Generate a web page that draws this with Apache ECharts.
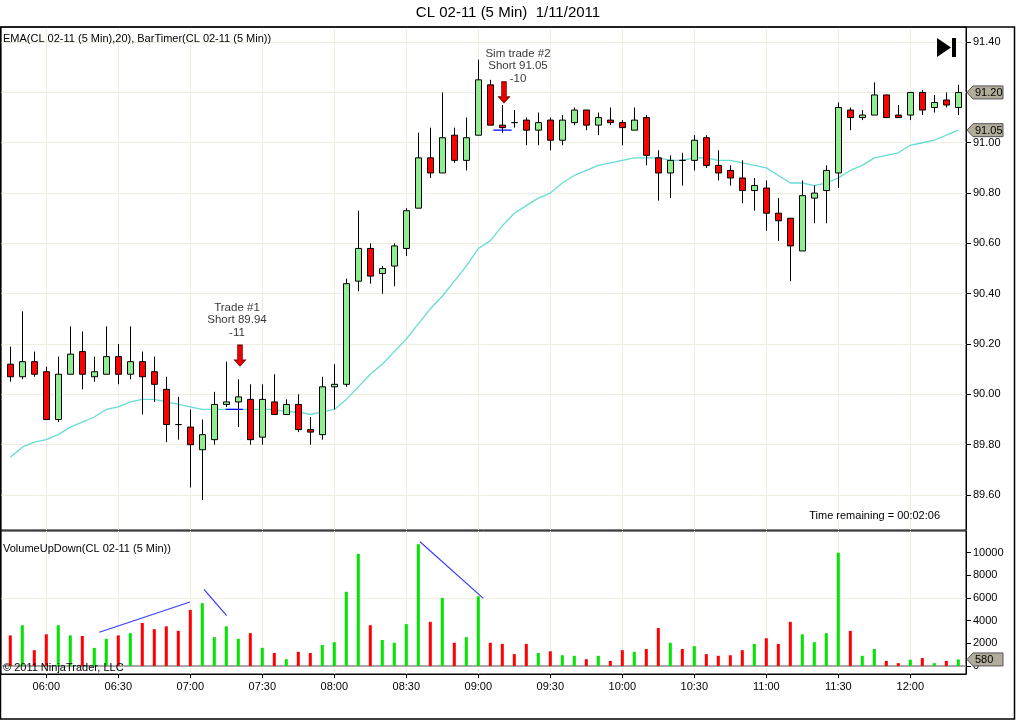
<!DOCTYPE html>
<html><head><meta charset="utf-8">
<script src="https://cdn.jsdelivr.net/npm/echarts@6/dist/echarts.min.js"></script>
<style>html,body{margin:0;padding:0;background:#fff}#c{width:1016px;height:720px}</style>
</head><body><div id="c"></div>
<script>
const times = ['05:45','05:50','05:55',
 '06:00','06:05','06:10','06:15','06:20','06:25','06:30','06:35','06:40','06:45','06:50','06:55',
 '07:00','07:05','07:10','07:15','07:20','07:25','07:30','07:35','07:40','07:45','07:50','07:55',
 '08:00','08:05','08:10','08:15','08:20','08:25','08:30','08:35','08:40','08:45','08:50','08:55',
 '09:00','09:05','09:10','09:15','09:20','09:25','09:30','09:35','09:40','09:45','09:50','09:55',
 '10:00','10:05','10:10','10:15','10:20','10:25','10:30','10:35','10:40','10:45','10:50','10:55',
 '11:00','11:05','11:10','11:15','11:20','11:25','11:30','11:35','11:40','11:45','11:50','11:55',
 '12:00','12:05','12:10','12:15','12:20'];
const open = [90.12,90.07,90.13,90.09,89.90,90.08,90.17,90.07,90.08,90.15,90.08,90.13,90.09,90.02,89.88,89.87,89.78,89.82,89.96,89.97,
 89.98,89.83,89.97,89.92,89.96,89.86,89.84,90.03,90.04,90.45,90.58,90.48,90.51,90.58,90.74,90.94,90.88,91.03,90.93,91.03,
 91.23,91.07,91.08,91.09,91.05,91.09,91.01,91.08,91.13,91.07,91.09,91.08,91.05,91.10,90.94,90.88,90.93,90.93,91.02,90.91,
 90.89,90.86,90.81,90.82,90.72,90.70,90.57,90.78,90.81,90.88,91.13,91.10,91.11,91.19,91.11,91.11,91.20,91.14,91.17,91.14];
const high = [90.19,90.33,90.17,90.11,90.15,90.27,90.25,90.15,90.27,90.20,90.27,90.17,90.15,90.07,89.99,89.94,89.90,90.01,90.13,90.06,
 90.04,90.04,90.08,89.98,90.00,89.91,90.07,90.12,90.46,90.73,90.60,90.51,90.60,90.74,91.04,91.06,91.20,91.06,91.10,91.33,
 91.25,91.15,91.13,91.10,91.12,91.10,91.11,91.14,91.13,91.12,91.14,91.09,91.14,91.11,90.97,90.95,90.96,91.03,91.03,90.97,
 90.91,90.93,90.86,90.85,90.78,90.70,90.85,90.83,90.91,91.16,91.14,91.13,91.24,91.19,91.15,91.20,91.21,91.19,91.20,91.23];
const low = [90.05,90.06,90.07,89.90,89.89,90.08,90.02,90.05,90.08,90.04,90.06,89.92,89.97,89.81,89.82,89.63,89.58,89.80,89.95,89.87,
 89.80,89.80,89.92,89.92,89.85,89.80,89.82,89.94,90.03,90.41,90.44,90.40,90.43,90.55,90.74,90.86,90.88,90.92,90.89,91.03,
 91.07,91.04,91.06,90.99,90.99,90.97,90.99,91.07,91.05,91.03,91.07,90.99,91.05,90.91,90.77,90.78,90.83,90.89,90.90,90.85,
 90.83,90.76,90.73,90.65,90.61,90.45,90.57,90.68,90.68,90.82,91.05,91.09,91.11,91.10,91.10,91.09,91.11,91.12,91.14,91.11];
const close = [90.07,90.13,90.08,89.90,90.08,90.16,90.08,90.09,90.15,90.08,90.13,90.07,90.04,89.88,89.88,89.80,89.84,89.96,89.97,89.99,
 89.82,89.98,89.92,89.96,89.86,89.85,90.03,90.04,90.44,90.58,90.47,90.50,90.59,90.73,90.94,90.88,91.02,90.93,91.02,91.25,
 91.07,91.06,91.08,91.05,91.08,91.01,91.09,91.13,91.07,91.10,91.08,91.06,91.09,90.95,90.88,90.93,90.93,91.01,90.91,90.88,
 90.86,90.81,90.83,90.72,90.69,90.59,90.79,90.80,90.89,91.14,91.10,91.11,91.19,91.10,91.10,91.20,91.13,91.16,91.15,91.20];
const volume = [2700,3600,1400,2800,3600,2700,2650,1600,2400,2700,2900,3800,3250,3500,3100,4950,5550,2550,3500,2400,
 2900,1600,1150,600,1250,1150,1850,2100,6550,9900,3600,2300,2050,3700,10750,3900,6000,2050,2550,6150,
 2050,1950,1050,1950,1150,1300,950,900,600,900,450,1400,1250,1500,3350,2050,1500,1750,1050,900,
 950,1400,1950,2450,1950,3900,2800,2100,2900,10000,3100,900,1500,450,250,550,700,250,450,580];
const ema = [89.75,89.79,89.81,89.82,89.84,89.87,89.89,89.91,89.94,89.95,89.97,89.98,89.98,89.97,89.96,89.95,89.94,89.94,89.94,89.94,
 89.94,89.94,89.94,89.93,89.93,89.92,89.93,89.94,89.98,90.03,90.08,90.12,90.17,90.22,90.28,90.34,90.39,90.45,90.51,90.58,
 90.61,90.67,90.72,90.75,90.78,90.80,90.84,90.87,90.89,90.91,90.92,90.93,90.94,90.94,90.94,90.93,90.93,90.94,90.94,90.93,
 90.93,90.92,90.91,90.90,90.87,90.84,90.84,90.83,90.84,90.86,90.89,90.91,90.94,90.95,90.96,90.99,91.00,91.01,91.03,91.05];
const timeTicks = ['06:00','06:30','07:00','07:30','08:00','08:30','09:00','09:30','10:00','10:30','11:00','11:30','12:00'];
const priceTicks = [89.60,89.80,90.00,90.20,90.40,90.60,90.80,91.00,91.20,91.40];
const volumeTicks = [0,2000,4000,6000,8000,10000];
const tradeLabels = ['Trade #1\nShort 89.94\n-11', 'Sim trade #2\nShort 91.05\n-10'];
const tradeEntry = [89.94, 91.05];
const tradeLineSpan = [[17.95, 19.37], [40.25, 41.78]];
const tradeArrow = [[19.14, 90.154], [41.14, 91.20]];
const tradeText = [[18.89, 90.296], [42.31, 91.305]];
const volumeTrendLines = [
  [[7.42, 2975], [14.97, 5650]],
  [[16.14, 6768], [18.03, 4441]],
  [[34.14, 10970], [39.42, 5970]]
];

const FONT = 'Liberation Sans, Arial, sans-serif';
const GRID = '#efedde';
const UP = '#90ee90', DOWN = '#ff0000';
const VUP = '#00e600', VDOWN = '#ff0000';

const tickIdx = timeTicks.map(t => times.indexOf(t));
const candles = times.map((t, i) => [i, open[i], close[i], low[i], high[i]]);
const emaData = times.map((t, i) => [i, ema[i]]);
const volData = times.map((t, i) => [i, volume[i]]);

const xMin = -0.775, xMax = 79.64;
const chart = echarts.init(document.getElementById('c'), null, {renderer: 'canvas'});

const xAxisBase = {
  type: 'value', min: xMin, max: xMax,
  splitLine: {show: true, lineStyle: {color: GRID, width: 1}}
};

const series = [
  {
    type: 'line', xAxisIndex: 0, yAxisIndex: 0, data: emaData, showSymbol: false, symbol: 'none',
    lineStyle: {color: '#66dcd4', width: 1.3}, z: 1, silent: true
  },
  {
    type: 'candlestick', xAxisIndex: 0, yAxisIndex: 0, data: candles, barWidth: 7, z: 3,
    itemStyle: {color: UP, color0: DOWN, borderColor: '#000', borderColor0: '#000', borderColorDoji: '#000', borderWidth: 1}
  },
  {
    type: 'bar', xAxisIndex: 1, yAxisIndex: 1, data: volData, barWidth: 3, z: 2,
    itemStyle: {color: p => close[p.dataIndex] > open[p.dataIndex] ? VUP : VDOWN},
    markLine: {
      silent: true, symbol: 'none', z: 1, label: {show: false}, animation: false,
      data: [
        {yAxis: 6000, lineStyle: {color: GRID, width: 1, type: 'solid'}},
        {yAxis: 0, lineStyle: {color: '#a8a8a8', width: 2, type: 'solid'}}
      ]
    }
  }
];
tradeEntry.forEach((p, k) => {
  series.push({
    type: 'line', xAxisIndex: 0, yAxisIndex: 0, showSymbol: false, symbol: 'none', z: 4,
    data: [[tradeLineSpan[k][0], p], [tradeLineSpan[k][1], p]],
    lineStyle: {color: '#0000ff', width: 1.3}
  });
});
series.push({
  type: 'scatter', xAxisIndex: 0, yAxisIndex: 0, z: 6,
  symbol: 'path://M3,0 L8,0 L8,15 L11,15 L5.5,21 L0,15 L3,15 Z',
  symbolSize: [11, 21],
  itemStyle: {color: '#e80000', borderColor: '#700000', borderWidth: 0.8, opacity: 1},
  data: tradeArrow
});
series.push({
  type: 'scatter', xAxisIndex: 0, yAxisIndex: 0, z: 6, symbolSize: 1,
  itemStyle: {color: 'rgba(0,0,0,0)'},
  data: tradeText.map((p, k) => ({value: p, name: tradeLabels[k]})),
  label: {show: true, position: 'inside', formatter: p => p.name, color: '#000',
    fontFamily: FONT, fontSize: 11.5, lineHeight: 12.5, align: 'center', verticalAlign: 'middle'}
});
volumeTrendLines.forEach(seg => {
  series.push({
    type: 'line', xAxisIndex: 1, yAxisIndex: 1, showSymbol: false, symbol: 'none', z: 5,
    data: seg, lineStyle: {color: '#3a3aff', width: 1.2}
  });
});

const blackLine = {show: true, onZero: false, lineStyle: {color: '#000', width: 1}};
const option = {
  animation: false,
  backgroundColor: '#fff',
  textStyle: {fontFamily: FONT},
  grid: [
    {left: 1, right: 50, top: 27, height: 503, show: true, borderColor: '#000', borderWidth: 1, backgroundColor: '#fff', outerBoundsMode: 'none', containLabel: false},
    {left: 1, right: 50, top: 531, height: 143, show: true, borderColor: '#000', borderWidth: 1, backgroundColor: '#fff', outerBoundsMode: 'none', containLabel: false}
  ],
  xAxis: [
    Object.assign({}, xAxisBase, {gridIndex: 0, position: 'bottom',
      axisLine: {show: false, onZero: false},
      axisTick: {show: false, customValues: tickIdx},
      axisLabel: {show: false, customValues: tickIdx, formatter: v => times[Math.round(v)]}}),
    Object.assign({}, xAxisBase, {gridIndex: 1, position: 'bottom',
      axisLine: blackLine,
      axisTick: {show: true, length: 4, lineStyle: {color: '#000', width: 1}, customValues: tickIdx},
      axisLabel: {show: true, customValues: tickIdx, formatter: v => times[Math.round(v)],
        color: '#000', fontSize: 11, fontFamily: FONT, margin: 7}})
  ],
  yAxis: [
    {
      type: 'value', gridIndex: 0, position: 'right', min: 89.461, max: 91.460, scale: true,
      axisLine: blackLine,
      axisTick: {show: true, inside: false, length: 5, lineStyle: {color: '#000', width: 1}, customValues: priceTicks},
      axisLabel: {customValues: priceTicks, formatter: v => v.toFixed(2), color: '#000', fontSize: 11, fontFamily: FONT, margin: 7},
      splitLine: {show: true, lineStyle: {color: GRID, width: 1}}
    },
    {
      type: 'value', gridIndex: 1, position: 'right', min: -706, max: 11915,
      axisLine: blackLine,
      axisTick: {show: true, inside: false, length: 5, lineStyle: {color: '#000', width: 1}, customValues: volumeTicks},
      axisLabel: {customValues: volumeTicks, formatter: v => String(Math.round(v)), color: '#000', fontSize: 11, fontFamily: FONT, margin: 7},
      splitLine: {show: false}
    }
  ],
  series: series
};
chart.setOption(option);

function txt(x, y, text, size, align) {
  return {type: 'text', x: x, y: y, z: 100,
    style: {text: text, fill: '#000', font: size + 'px ' + FONT, textAlign: align || 'left', textVerticalAlign: 'middle', align: align || 'left', verticalAlign: 'middle'}};
}
function tag(y, text) {
  const x0 = 967;
  return [
    {type: 'polygon', z: 100, shape: {points: [[x0, y], [x0 + 6, y - 6.5], [1003, y - 6.5], [1003, y + 6.5], [x0 + 6, y + 6.5]]},
      style: {fill: '#b2ad9b', stroke: '#555', lineWidth: 1}},
    txt(975, y + 0.5, text, 11, 'left')
  ];
}
const last = times.length - 1;
const pPrice = chart.convertToPixel({gridIndex: 0}, [last, close[last]]);
const pEma = chart.convertToPixel({gridIndex: 0}, [last, ema[last]]);
const pVol = chart.convertToPixel({gridIndex: 1}, [last, volume[last]]);

const graphics = [
  {type: 'rect', z: 90, shape: {x: 0.5, y: 27, width: 1014, height: 692}, style: {fill: 'none', stroke: '#000', lineWidth: 1.5}},
  txt(508, 13, 'CL 02-11 (5 Min)  1/11/2011', 15, 'center'),
  txt(3, 39, 'EMA(CL 02-11 (5 Min),20), BarTimer(CL 02-11 (5 Min))', 11, 'left'),
  txt(3, 549, 'VolumeUpDown(CL 02-11 (5 Min))', 11, 'left'),
  txt(3, 668, '\u00a9 2011 NinjaTrader, LLC', 11, 'left'),
  txt(940, 516, 'Time remaining = 00:02:06', 11, 'right'),
  {type: 'polygon', z: 100, shape: {points: [[937, 38], [951, 47.5], [937, 57]]}, style: {fill: '#000'}},
  {type: 'rect', z: 100, shape: {x: 952, y: 38, width: 4, height: 19}, style: {fill: '#000'}}
].concat(tag(pPrice[1], close[last].toFixed(2)), tag(pEma[1], ema[last].toFixed(2)), tag(pVol[1], String(volume[last])));
chart.setOption({graphic: {elements: graphics}});
</script>
</body></html>
